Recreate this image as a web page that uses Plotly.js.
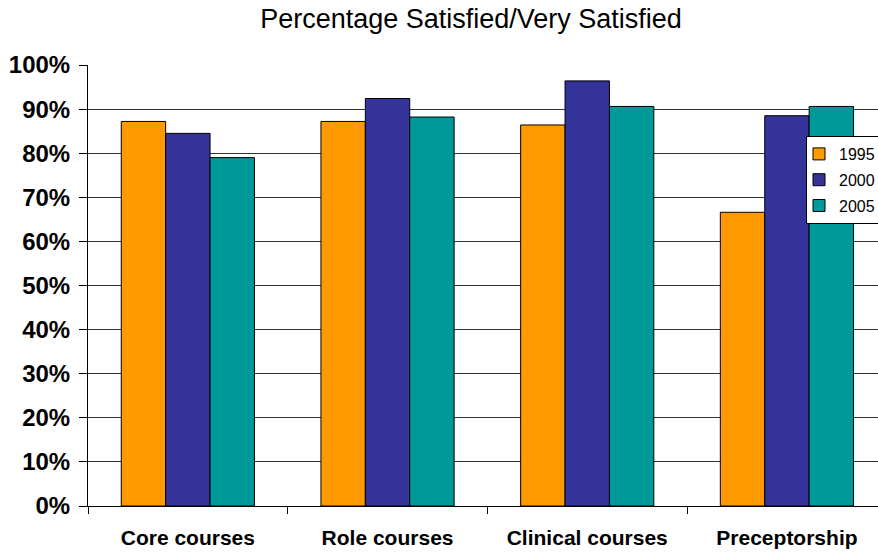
<!DOCTYPE html>
<html>
<head>
<meta charset="utf-8">
<script src="https://cdn.plot.ly/plotly-3.0.1.min.js"></script>
<style>html,body{margin:0;padding:0;background:#fff;}#chart{width:878px;height:553px;}</style>
</head>
<body>
<div id="chart"></div>
<script>
const categories = ["Core courses", "Role courses", "Clinical courses", "Preceptorship"];
const seriesNames = ["1995", "2000", "2005"];
const values1995 = [0.872, 0.872, 0.864, 0.666];
const values2000 = [0.845, 0.924, 0.964, 0.885];
const values2005 = [0.790, 0.882, 0.906, 0.906];
const colors = ["#FF9900", "#333399", "#009999"];

const allValues = [values1995, values2000, values2005];
const font = "Liberation Sans, Arial, sans-serif";

const traces = allValues.map((vals, i) => ({
  type: "bar",
  name: seriesNames[i],
  x: categories,
  y: vals,
  marker: {color: colors[i], line: {color: "#000", width: 1}},
  legendgroup: "g" + i,
  hoverinfo: "x+y+name"
}));

const layout = {
  width: 878,
  height: 553,
  margin: {l: 88, r: 0, t: 65, b: 47, autoexpand: false},
  paper_bgcolor: "#fff",
  plot_bgcolor: "#fff",
  font: {family: font, color: "#000"},
  title: {
    text: "Percentage Satisfied/Very Satisfied",
    font: {family: font, size: 27, color: "#000"},
    x: 471 / 878,
    xref: "container",
    xanchor: "center",
    y: 1 - 19 / 553,
    yref: "container",
    yanchor: "middle"
  },
  barmode: "group",
  bargap: 0.333,
  bargroupgap: 0,
  xaxis: {
    type: "category",
    range: [-0.5, 3.456],
    showline: true,
    linecolor: "#000",
    linewidth: 1,
    ticks: "outside",
    tickson: "boundaries",
    ticklen: 7,
    tickcolor: "#000",
    showgrid: false,
    tickfont: {family: font, size: 21, color: "#000", weight: "bold"},
    ticklabelstandoff: 13
  },
  yaxis: {
    range: [0, 1],
    dtick: 0.1,
    tick0: 0,
    tickformat: ".0%",
    showline: true,
    linecolor: "#000",
    linewidth: 1,
    ticks: "outside",
    ticklen: 8,
    tickcolor: "#000",
    showgrid: true,
    gridcolor: "#333",
    gridwidth: 1,
    zeroline: false,
    tickfont: {family: font, size: 24, color: "#000", weight: "bold"},
    ticklabelstandoff: 4
  },
  showlegend: true,
  legend: {
    x: (806 - 88) / 790,
    xanchor: "left",
    y: (506 - 136) / 441,
    yanchor: "top",
    bgcolor: "#fff",
    bordercolor: "#000",
    borderwidth: 1,
    font: {family: font, size: 16, color: "#000"},
    traceorder: "grouped",
    tracegroupgap: 2,
    itemwidth: 30,
    indentation: -8
  }
};

Plotly.newPlot("chart", traces, layout, {displayModeBar: false, staticPlot: true});
</script>
</body>
</html>
